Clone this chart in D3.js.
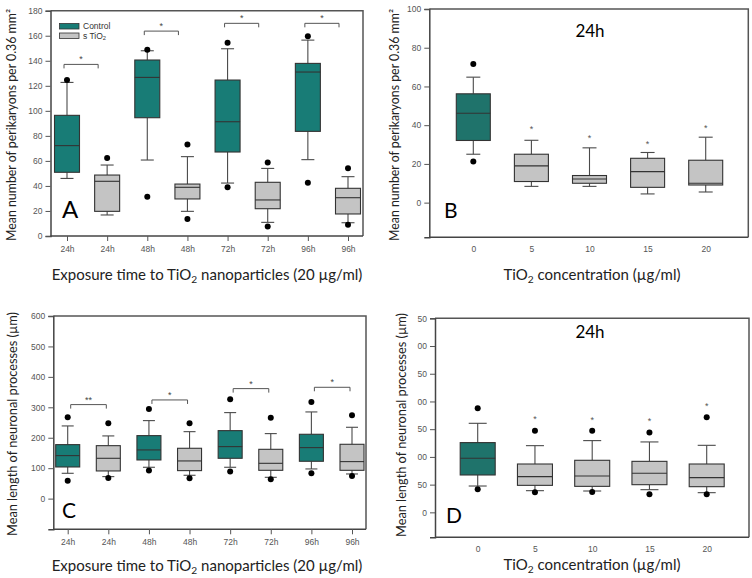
<!DOCTYPE html>
<html><head><meta charset="utf-8">
<script src="https://cdn.jsdelivr.net/npm/d3@7"></script>
<style>
html,body{margin:0;padding:0;background:#fff;}
svg{display:block;}
.tick text{font-family:"Liberation Sans",Arial,sans-serif;}
</style></head>
<body>
<svg id="chart" width="752" height="578"></svg>
<script>
// ---------------- DATA ----------------
const timeLabels = ["24h", "48h", "72h", "96h"];
const groupNames = ["Control", "s TiO2"];
const concentrations = [0, 5, 10, 15, 20];

// box stats: [whiskerLow, q1, median, q3, whiskerHigh]
const aControlStats = [[46, 50.9, 72.2, 96.4, 122.7], [60.7, 94.5, 126.7, 140.6, 148], [42.3, 67.1, 91.3, 124.6, 149.6], [61, 83.6, 131, 137.9, 156.5]];
const aControlOutliers = [[124.6], [148.8, 31.4], [154.4, 38.9], [159.5, 42.6]];
const aTiO2Stats = [[16.8, 19.7, 43.7, 48.7, 56.7], [19.7, 29.6, 38.9, 41.5, 63.4], [10.9, 21.8, 28.8, 42.9, 54], [10.6, 17.6, 30.6, 38.1, 47.4]];
const aTiO2Outliers = [[62.3], [73.2, 13.6], [58.8, 7.5], [54.1, 9.0]];
const aBracketValues = [137.1, 163.7, 169.9, 169.9];
const aBracketMarks = ["*", "*", "*", "*"];
const aYTicks = [0, 20, 40, 60, 80, 100, 120, 140, 160, 180];

const bStats = [[25, 32.1, 46.2, 56.2, 64.8], [8.4, 10.9, 19, 25, 32.2], [8.4, 10, 12.2, 14, 28.3], [4.5, 7.9, 16, 22.9, 25.9], [5.5, 9.1, 10, 21.9, 33.8]];
const bOutliers = [[71.6, 21.2], [], [], [], []];
const bStars = [null, 38.3, 34, 30.7, 39];
const bYTicks = [0, 20, 40, 60, 80, 100];

const cControlStats = [[83.2, 104, 141.3, 177.4, 238.8], [103, 127, 160, 207, 256.3], [103, 132.5, 170.9, 223.4, 282.6], [97.5, 122.7, 167.6, 211.4, 284.8]];
const cControlOutliers = [[267, 59.1], [294.6, 92], [326.4, 88.7], [317.6, 83.2]];
const cTiO2Stats = [[72.3, 90.9, 132.5, 174, 206], [76.7, 92, 123.8, 165.4, 220], [70, 93, 116, 162, 213.6], [81, 93, 121.6, 178.5, 234.4]];
const cTiO2Outliers = [[247.5, 67.9], [247.5, 66.8], [266, 63.5], [273.8, 74.5]];
const cBracketValues = [308.9, 324.2, 361.4, 365.8];
const cBracketMarks = ["**", "*", "*", "*"];
const cYTicks = [0, 100, 200, 300, 400, 500, 600];

const dStats = [[47.5, 67.4, 97.5, 125.8, 160.6], [39.1, 48.7, 64.4, 87.2, 120.3], [38.5, 46.9, 65.6, 93.9, 129.4], [40.9, 49.9, 70.4, 92, 127], [35.5, 46.3, 62.6, 87.2, 120.9]];
const dOutliers = [[187.7, 41.5], [147.4, 36.1], [147.4, 36.7], [143.8, 32.5], [171.5, 32.5]];
const dStars = [null, 170.9, 167.9, 166.7, 193.1];
const dYTicks = [0, 50, 100, 150, 200, 250, 300, 350];
const dYTickLabels = ["0", "50", "00", "50", "00", "50", "00", "50"];

// ---------------- STYLE ----------------
const TEAL_AC = "#187c76";
const TEAL_BD = "#1f736b";
const GRAY = "#c4c4c4";
const LINE = "#4a4a4a";
const TITLE_FONT = "Lato, 'Open Sans', sans-serif";

const svg = d3.select("#chart");

function subText(sel, parts, size) {
  parts.forEach(([t, sub], i) => {
    const ts = sel.append("tspan").text(t);
    if (sub) ts.attr("font-size", size * 0.68).attr("dy", size * 0.22);
    else if (i > 0) ts.attr("dy", -size * 0.22);
  });
}

function frame(g, left, right, top, bottom) {
  g.append("path")
    .attr("d", `M${left},${top}H${right}V${bottom}`)
    .attr("fill", "none").attr("stroke", "#555").attr("stroke-width", 1.5);
}

function yAxis(g, y, left, ticks, labels) {
  const ax = d3.axisLeft(y).tickValues(ticks).tickSize(5).tickPadding(3)
    .tickFormat((d, i) => labels ? labels[i] : d);
  const a = g.append("g").attr("transform", `translate(${left},0)`).call(ax);
  a.select(".domain").attr("stroke", "#444").attr("stroke-width", 1.5);
  a.selectAll(".tick line").attr("stroke", "#555");
  a.selectAll(".tick text").attr("fill", "#555").attr("font-size", 8.5);
}

function xAxis(g, x, bottom, fmt) {
  const ax = d3.axisBottom(x).tickSize(5).tickPadding(5).tickFormat(fmt);
  const a = g.append("g").attr("transform", `translate(0,${bottom})`).call(ax);
  a.select(".domain").remove();
  a.selectAll(".tick line").attr("stroke", "#555");
  a.selectAll(".tick text").attr("fill", "#555").attr("font-size", 8.5);
  return a;
}

function drawBox(g, cx, y, s, outs, w, fill, capW) {
  const [lo, q1, med, q3, hi] = s;
  g.append("line").attr("x1", cx).attr("x2", cx).attr("y1", y(q3)).attr("y2", y(hi)).attr("stroke", LINE).attr("stroke-width", 1.1);
  g.append("line").attr("x1", cx).attr("x2", cx).attr("y1", y(q1)).attr("y2", y(lo)).attr("stroke", LINE).attr("stroke-width", 1.1);
  g.append("line").attr("x1", cx - capW / 2).attr("x2", cx + capW / 2).attr("y1", y(hi)).attr("y2", y(hi)).attr("stroke", LINE).attr("stroke-width", 1.1);
  g.append("line").attr("x1", cx - capW / 2).attr("x2", cx + capW / 2).attr("y1", y(lo)).attr("y2", y(lo)).attr("stroke", LINE).attr("stroke-width", 1.1);
  g.append("rect").attr("x", cx - w / 2).attr("width", w).attr("y", y(q3)).attr("height", y(q1) - y(q3))
    .attr("fill", fill).attr("stroke", "#333").attr("stroke-width", 1.1);
  g.append("line").attr("x1", cx - w / 2).attr("x2", cx + w / 2).attr("y1", y(med)).attr("y2", y(med)).attr("stroke", "#333").attr("stroke-width", 1.1);
  outs.forEach(v => g.append("circle").attr("cx", cx).attr("cy", y(v)).attr("r", 3).attr("fill", "#000"));
}

function yTitle(x, cy, parts, size, len) {
  const t = svg.append("text").attr("transform", `translate(${x},${cy}) rotate(-90)`)
    .attr("text-anchor", "middle").attr("font-family", TITLE_FONT).attr("font-size", size).attr("fill", "#222")
    .attr("textLength", len).attr("lengthAdjust", "spacingAndGlyphs");
  t.text(parts);
}

function xTitle(cx, y, size, parts) {
  const t = svg.append("text").attr("x", cx).attr("y", y).attr("text-anchor", "middle")
    .attr("font-family", TITLE_FONT).attr("font-size", size).attr("fill", "#222");
  subText(t, parts, size);
}

function bigLetter(x, y, s, size) {
  svg.append("text").attr("x", x).attr("y", y).attr("font-family", TITLE_FONT).attr("font-size", size).attr("fill", "#000").text(s);
}

// ---------- time panels (A, C) ----------
function timePanel(cfg) {
  const g = svg.append("g");
  const y = d3.scaleLinear().domain(cfg.yDomain).range([cfg.bottom, cfg.top]);
  const keys = [];
  timeLabels.forEach(t => groupNames.forEach(gn => keys.push(t + "|" + gn)));
  const x = d3.scalePoint().domain(keys).range(cfg.xRange);
  frame(g, cfg.left, cfg.right, cfg.top, cfg.bottom);
  g.append("line").attr("x1", cfg.left).attr("x2", cfg.right).attr("y1", cfg.bottom).attr("y2", cfg.bottom).attr("stroke", "#444").attr("stroke-width", 1.5);
  yAxis(g, y, cfg.left, cfg.yTicks);
  xAxis(g, x, cfg.bottom, d => d.split("|")[0]);
  timeLabels.forEach((t, i) => {
    drawBox(g, x(t + "|" + groupNames[0]), y, cfg.ctrl[i], cfg.ctrlOut[i], cfg.boxW, TEAL_AC, cfg.capW);
    drawBox(g, x(t + "|" + groupNames[1]), y, cfg.tio[i], cfg.tioOut[i], cfg.boxW, GRAY, cfg.capW);
    const x1 = x(t + "|" + groupNames[0]) + cfg.brOff[0];
    const x2 = x(t + "|" + groupNames[1]) + cfg.brOff[1];
    const by = y(cfg.brVals[i]);
    g.append("path").attr("d", `M${x1},${by + 4}V${by}H${x2}V${by + 4}`).attr("fill", "none").attr("stroke", "#555").attr("stroke-width", 1);
    g.append("text").attr("x", (x1 + x2) / 2).attr("y", by - 2).attr("text-anchor", "middle")
      .attr("font-family", "Liberation Sans, Arial, sans-serif").attr("font-size", 9).attr("fill", "#444").text(cfg.brMarks[i]);
  });
  return g;
}

// ---------- concentration panels (B, D) ----------
function concPanel(cfg) {
  const g = svg.append("g");
  const y = d3.scaleLinear().domain(cfg.yDomain).range([cfg.bottom, cfg.top]);
  const x = d3.scaleLinear().domain([0, 20]).range(cfg.xRange);
  frame(g, cfg.left, cfg.right, cfg.top, cfg.bottom);
  g.append("line").attr("x1", cfg.left).attr("x2", cfg.right).attr("y1", cfg.bottom).attr("y2", cfg.bottom).attr("stroke", "#444").attr("stroke-width", 1.5);
  yAxis(g, y, cfg.left, cfg.yTicks, cfg.yLabels);
  const ax = d3.axisBottom(x).tickValues(concentrations).tickSize(0).tickPadding(9).tickFormat(d => d);
  const a = g.append("g").attr("transform", `translate(0,${cfg.bottom})`).call(ax);
  a.select(".domain").remove();
  a.selectAll(".tick text").attr("fill", "#555").attr("font-size", 8.5);
  concentrations.forEach((c, i) => {
    drawBox(g, x(c), y, cfg.stats[i], cfg.outs[i], cfg.boxW, i === 0 ? TEAL_BD : GRAY, cfg.capW);
    if (cfg.stars[i] != null) {
      g.append("text").attr("x", x(c)).attr("y", y(cfg.stars[i]) + 4).attr("text-anchor", "middle")
        .attr("font-family", "Liberation Sans, Arial, sans-serif").attr("font-size", 9).attr("fill", "#555").text("*");
    }
  });
  return g;
}

// Panel A
const gA = timePanel({
  left: 50.5, right: 363, top: 10.7, bottom: 236, yDomain: [0, 180], yTicks: aYTicks,
  xRange: [67, 348], boxW: 25, capW: 13,
  ctrl: aControlStats, ctrlOut: aControlOutliers, tio: aTiO2Stats, tioOut: aTiO2Outliers,
  brVals: aBracketValues, brMarks: aBracketMarks, brOff: [-3, -9]
});
[[TEAL_AC, 23.5, [["Control", false]]], [GRAY, 33, [["s TiO", false], ["2", true]]]].forEach(([col, yy, parts]) => {
  gA.append("rect").attr("x", 59.5).attr("y", yy).attr("width", 19.5).attr("height", 5.5).attr("fill", col).attr("stroke", "#333").attr("stroke-width", 0.8);
  const t = gA.append("text").attr("x", 83).attr("y", yy + 5.5).attr("font-family", "Liberation Sans, Arial, sans-serif").attr("font-size", 8.5).attr("fill", "#333");
  subText(t, parts, 8.5);
});
bigLetter(62, 217.5, "A", 24);
yTitle(16, 125, "Mean number of perikaryons per 0.36 mm²", 12.5, 232);
xTitle(207, 280, 15, [["Exposure time to TiO", false], ["2", true], [" nanoparticles (20 µg/ml)", false]]);

// Panel B
concPanel({
  left: 429.3, right: 748.3, top: 9, bottom: 237.3, yDomain: [-17.9, 100], yTicks: bYTicks,
  xRange: [473.3, 705.7], boxW: 34, capW: 14, stats: bStats, outs: bOutliers, stars: bStars
});
svg.append("text").attr("x", 590).attr("y", 37).attr("text-anchor", "middle").attr("font-family", TITLE_FONT).attr("font-size", 17).attr("fill", "#000").text("24h");
bigLetter(444, 218, "B", 21);
yTitle(399, 125, "Mean number of perikaryons per 0.36 mm²", 12.5, 232);
xTitle(592, 280, 15, [["TiO", false], ["2", true], [" concentration (µg/ml)", false]]);

// Panel C
timePanel({
  left: 53.3, right: 366, top: 316, bottom: 529.3, yDomain: [-100.8, 600], yTicks: cYTicks,
  xRange: [67.7, 352], boxW: 24, capW: 12,
  ctrl: cControlStats, ctrlOut: cControlOutliers, tio: cTiO2Stats, tioOut: cTiO2Outliers,
  brVals: cBracketValues, brMarks: cBracketMarks, brOff: [3, -2]
});
bigLetter(62, 517.5, "C", 21);
yTitle(17, 424, "Mean length of neuronal processes (µm)", 13, 224);
xTitle(207, 571, 15, [["Exposure time to TiO", false], ["2", true], [" nanoparticles (20 µg/ml)", false]]);

// Panel D
concPanel({
  left: 435, right: 749, top: 318.3, bottom: 537.3, yDomain: [-45, 350], yTicks: dYTicks, yLabels: dYTickLabels,
  xRange: [477.7, 706.7], boxW: 35, capW: 18, stats: dStats, outs: dOutliers, stars: dStars
});
svg.append("text").attr("x", 590).attr("y", 338).attr("text-anchor", "middle").attr("font-family", TITLE_FONT).attr("font-size", 17).attr("fill", "#000").text("24h");
bigLetter(446, 523, "D", 21);
yTitle(406, 425, "Mean length of neuronal processes (µm)", 13, 224);
xTitle(592, 570, 15, [["TiO", false], ["2", true], [" concentration (µg/ml)", false]]);
</script>
</body></html>
